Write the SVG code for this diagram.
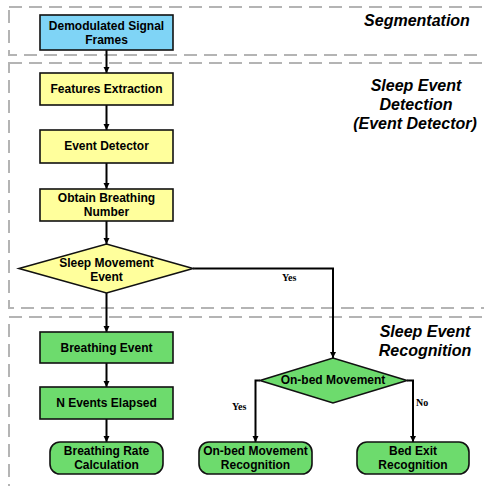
<svg xmlns="http://www.w3.org/2000/svg" width="484" height="486" viewBox="0 0 484 486">
<defs>
<style>
.sec{fill:none;stroke:#b4b4b4;stroke-width:2;stroke-dasharray:13,7}
.box{stroke:#111;stroke-width:1.6}
.blue{fill:#7fd4f6}
.yel{fill:#ffff9c}
.grn{fill:#6ddb6d}
.t{font-family:"Liberation Sans",Arial,sans-serif;font-weight:bold;font-size:12px;fill:#000;text-anchor:middle}
.title{font-family:"Liberation Sans",Arial,sans-serif;font-weight:bold;font-style:italic;font-size:16px;fill:#000;text-anchor:middle}
.lbl{font-family:"Liberation Serif","Times New Roman",serif;font-weight:bold;font-size:10px;fill:#000}
.c{fill:none;stroke:#000;stroke-width:2}
</style>
<marker id="ah" viewBox="0 0 10 10" refX="10" refY="5" markerWidth="3.2" markerHeight="3.2" orient="auto" markerUnits="strokeWidth">
<path d="M0,0 L10,5 L0,10 z" fill="#000"/>
</marker>
</defs>
<rect width="484" height="486" fill="#fff"/>
<g id="sections">
<rect class="sec" x="9" y="7" width="500" height="48"/>
<rect class="sec" x="9" y="63" width="500" height="245"/>
<rect class="sec" x="9" y="317" width="500" height="190"/>
<text class="title" x="417" y="26">Segmentation</text>
<text class="title" x="416" y="91">Sleep Event</text>
<text class="title" x="416" y="110">Detection</text>
<text class="title" x="415" y="129">(Event Detector)</text>
<text class="title" x="425" y="337">Sleep Event</text>
<text class="title" x="425" y="356">Recognition</text>
</g>
<g id="connectors">
<line class="c" x1="106.5" y1="50" x2="106.5" y2="73" marker-end="url(#ah)"/>
<line class="c" x1="106.5" y1="105" x2="106.5" y2="130" marker-end="url(#ah)"/>
<line class="c" x1="106.5" y1="163" x2="106.5" y2="189" marker-end="url(#ah)"/>
<line class="c" x1="106.5" y1="221" x2="106.5" y2="244" marker-end="url(#ah)"/>
<line class="c" x1="106.5" y1="293" x2="106.5" y2="332" marker-end="url(#ah)"/>
<line class="c" x1="106.5" y1="363" x2="106.5" y2="387" marker-end="url(#ah)"/>
<line class="c" x1="106.5" y1="419" x2="106.5" y2="442" marker-end="url(#ah)"/>
<polyline class="c" points="193,268.5 333,268.5 333,358" marker-end="url(#ah)"/>
<polyline class="c" points="260,380.5 255.5,380.5 255.5,442" marker-end="url(#ah)"/>
<polyline class="c" points="407,380.5 413,380.5 413,442" marker-end="url(#ah)"/>
<text class="lbl" x="282" y="281">Yes</text>
<text class="lbl" x="232" y="410">Yes</text>
<text class="lbl" x="416" y="406">No</text>
</g>
<g id="demod">
<rect class="box blue" x="40" y="15" width="133" height="35"/>
<text class="t" x="106.5" y="30">Demodulated Signal</text>
<text class="t" x="106.5" y="44">Frames</text>
</g>
<g id="features">
<rect class="box yel" x="40" y="73" width="133" height="32"/>
<text class="t" x="106.5" y="93">Features Extraction</text>
</g>
<g id="detector">
<rect class="box yel" x="40" y="130" width="133" height="33"/>
<text class="t" x="106.5" y="150">Event Detector</text>
</g>
<g id="obtain">
<rect class="box yel" x="40" y="189" width="133" height="32"/>
<text class="t" x="106.5" y="202">Obtain Breathing</text>
<text class="t" x="106.5" y="216">Number</text>
</g>
<g id="sleepmove">
<polygon class="box yel" points="19,268.5 106.5,244 193,268.5 106.5,293"/>
<text class="t" x="106.5" y="267">Sleep Movement</text>
<text class="t" x="106.5" y="281">Event</text>
</g>
<g id="breathing">
<rect class="box grn" x="40" y="332" width="133" height="31"/>
<text class="t" x="106.5" y="352">Breathing Event</text>
</g>
<g id="nevents">
<rect class="box grn" x="40" y="387" width="133" height="32"/>
<text class="t" x="106.5" y="407">N Events Elapsed</text>
</g>
<g id="rate">
<rect class="box grn" x="50" y="442" width="113" height="32" rx="10"/>
<text class="t" x="106.5" y="455">Breathing Rate</text>
<text class="t" x="106.5" y="469">Calculation</text>
</g>
<g id="onbed">
<polygon class="box grn" points="260,380.5 333,358 407,380.5 333,403"/>
<text class="t" x="333" y="384">On-bed Movement</text>
</g>
<g id="onbedrec">
<rect class="box grn" x="199" y="442" width="113" height="32" rx="10"/>
<text class="t" x="255.5" y="455">On-bed Movement</text>
<text class="t" x="255.5" y="469">Recognition</text>
</g>
<g id="bedexit">
<rect class="box grn" x="357" y="442" width="112" height="32" rx="10"/>
<text class="t" x="413" y="455">Bed Exit</text>
<text class="t" x="413" y="469">Recognition</text>
</g>
</svg>
